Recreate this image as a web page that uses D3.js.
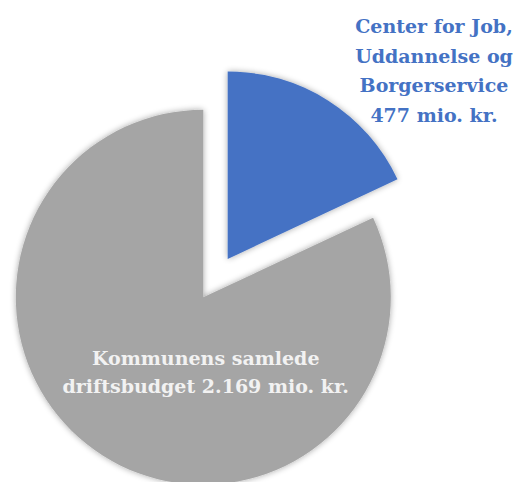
<!DOCTYPE html>
<html>
<head>
<meta charset="utf-8">
<script src="https://cdn.jsdelivr.net/npm/d3@7"></script>
<style>
  html, body { margin: 0; padding: 0; background: #ffffff; }
  svg { display: block; }
</style>
</head>
<body>
<svg id="chart" width="518" height="482"></svg>
<script>
// ---- data ----
const categories = ["Center for Job, Uddannelse og Borgerservice", "Kommunens samlede driftsbudget"];
const values = [477, 2169];
const colors = ["#4472C4", "#A5A5A5"];
const labelLines = [
  ["Center for Job,", "Uddannelse og", "Borgerservice", "477 mio. kr."],
  ["Kommunens samlede", "driftsbudget 2.169 mio. kr."]
];
const explode = [45.5, 0];

// ---- layout ----
const W = 518, H = 482;
const cx = 203.3, cy = 297.3, R = 187.5;

const svg = d3.select("#chart");
const defs = svg.append("defs");
const f = defs.append("filter").attr("id", "shadow")
  .attr("x", "-20%").attr("y", "-20%").attr("width", "140%").attr("height", "140%");
f.append("feGaussianBlur").attr("in", "SourceAlpha").attr("stdDeviation", 3).attr("result", "b");
f.append("feOffset").attr("in", "b").attr("dx", 0).attr("dy", 0).attr("result", "o");
f.append("feComponentTransfer").attr("in", "o").attr("result", "s")
  .append("feFuncA").attr("type", "linear").attr("slope", 0.35);
const m = f.append("feMerge");
m.append("feMergeNode").attr("in", "s");
m.append("feMergeNode").attr("in", "SourceGraphic");

const data = categories.map((c, i) => ({ name: c, value: values[i], color: colors[i], lines: labelLines[i], ex: explode[i] }));

const pie = d3.pie().value(d => d.value).sort(null).startAngle(0).endAngle(2 * Math.PI);
const arc = d3.arc().innerRadius(0).outerRadius(R);
const arcs = pie(data);

const g = svg.append("g").attr("transform", `translate(${cx},${cy})`);

g.selectAll("path.slice")
  .data(arcs)
  .join("path")
  .attr("class", "slice")
  .attr("d", arc)
  .attr("fill", d => d.data.color)
  .attr("filter", "url(#shadow)")
  .attr("transform", d => {
    const a = (d.startAngle + d.endAngle) / 2;
    return `translate(${Math.sin(a) * d.data.ex},${-Math.cos(a) * d.data.ex})`;
  });

// ---- labels ----
const font = "'DejaVu Serif', 'Liberation Serif', serif";
const labelPos = [
  { x: 434, y: 33.3, dy: 29.5, fill: "#4472C4" },
  { x: 205.7, y: 365, dy: 28.3, fill: "#F2F2F2" }
];

arcs.forEach((d, i) => {
  const p = labelPos[i];
  const t = svg.append("text")
    .attr("text-anchor", "middle")
    .attr("font-family", font)
    .attr("font-weight", "bold")
    .attr("font-size", 19)
    .attr("fill", p.fill);
  d.data.lines.forEach((ln, j) => {
    t.append("tspan")
      .attr("x", p.x)
      .attr("y", p.y + j * p.dy)
      .text(ln);
  });
});
</script>
</body>
</html>
